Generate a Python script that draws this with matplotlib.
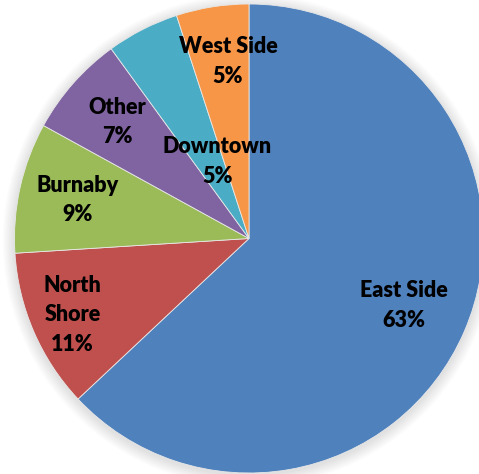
import numpy as np
import matplotlib
matplotlib.use("Agg")
import matplotlib.pyplot as plt
from matplotlib.patches import Circle

# Data
labels = ["East Side", "North Shore", "Burnaby", "Other", "Downtown", "West Side"]
shares = [63, 11, 9, 7, 5, 5]
colors = ["#4F81BD", "#C0504D", "#9BBB59", "#8064A2", "#4BACC6", "#F79646"]
label_text = ["East Side\n63%", "North\nShore\n11%", "Burnaby\n9%", "Other\n7%", "Downtown\n5%", "West Side\n5%"]
label_dist = [0.72, 0.82, 0.75, 0.75, 0.355, 0.76]
label_shift = [0, 0, 0, 0, -4.5, -2.2]  # degrees

W, H = 479, 474
fig = plt.figure(figsize=(W / 100, H / 100), dpi=100)
ax = fig.add_axes([0, 0, 1, 1])

cx, cy, R = 249, H - 238.5, 234.5

# soft shadow
for k in range(10):
    ax.add_patch(Circle((cx, cy - 2), R + 1 + k * 1.2, color="black", alpha=0.012, lw=0, zorder=0))

wedges, _ = ax.pie(shares, colors=colors, startangle=90, counterclock=False,
                   center=(cx, cy), radius=R, frame=True,
                   wedgeprops=dict(linewidth=0.6, edgecolor="#e8e8e8"))
ax.set_xlim(0, W)
ax.set_ylim(0, H)
ax.set_aspect("auto")
ax.axis("off")

for w, txt, d, s in zip(wedges, label_text, label_dist, label_shift):
    ang = np.deg2rad((w.theta1 + w.theta2) / 2 + s)
    x = cx + d * R * np.cos(ang)
    y = cy + d * R * np.sin(ang)
    ax.text(x, y, txt, ha="center", va="center", fontsize=15.5, fontweight="heavy",
            family="Lato", color="black", linespacing=1.5, zorder=5)

fig.savefig("out.png", dpi=100)
